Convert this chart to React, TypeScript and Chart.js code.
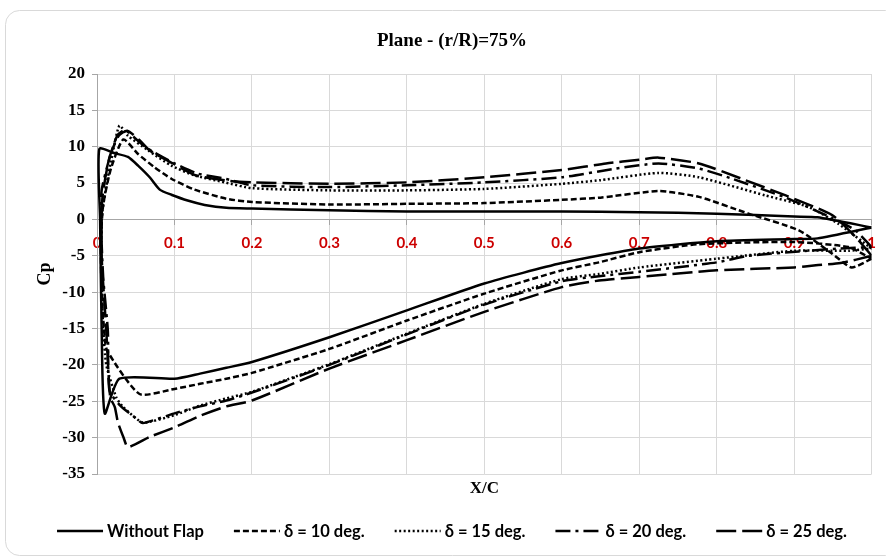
import { useEffect, useRef } from 'react';
import { Chart, registerables } from 'chart.js';

Chart.register(...registerables);

const TITLE = 'Plane - (r/R)=75%';
const X_TITLE = 'X/C';
const Y_TITLE = 'Cp';

const X_MIN = 0;
const X_MAX = 1;
const X_STEP = 0.1;
const Y_MIN = -35;
const Y_MAX = 20;
const Y_STEP = 5;

const SERIES_LABELS = ['Without Flap', 'δ = 10 deg.', 'δ = 15 deg.', 'δ = 20 deg.', 'δ = 25 deg.'];

// [x/c, Cp] along each section: trailing edge -> pressure side -> leading edge -> suction side -> trailing edge
const noFlap: [number, number][] = [
  [1.0, -1.1], [0.93, 0.3], [0.9, 0.4], [0.8, 0.8], [0.7, 1.0], [0.6, 1.1], [0.5, 1.1], [0.4, 1.1],
  [0.3, 1.25], [0.2, 1.5], [0.167, 1.6], [0.139, 2.0], [0.117, 2.6], [0.096, 3.4], [0.081, 4.1],
  [0.068, 5.8], [0.053, 7.4], [0.04, 8.6], [0.023, 9.1], [0.003, 9.7], [0.004, 0], [0.006, -15],
  [0.01, -26.7], [0.029, -21.9], [0.1, -21.9], [0.133, -21.2], [0.167, -20.4], [0.2, -19.6],
  [0.3, -16.2], [0.4, -12.5], [0.5, -8.8], [0.6, -6.0], [0.7, -4.0], [0.8, -3.0], [0.9, -2.7],
  [0.93, -2.6], [1.0, -1.1],
];

const flap10: [number, number][] = [
  [1.0, -5.4], [0.974, -6.6], [0.949, -4.7], [0.906, -1.5], [0.841, 0.8], [0.777, 3.1], [0.725, 3.9],
  [0.65, 3.0], [0.6, 2.7], [0.5, 2.25], [0.4, 2.15], [0.3, 2.05], [0.2, 2.4], [0.167, 2.85],
  [0.126, 4.1], [0.096, 5.6], [0.074, 7.2], [0.053, 9.0], [0.034, 11.0], [0.018, 7.0], [0.008, 2.0],
  [0.005, -3], [0.006, -10], [0.009, -15], [0.013, -18], [0.055, -24.0], [0.1, -23.3], [0.133, -22.6],
  [0.167, -21.9], [0.2, -21.1], [0.3, -17.8], [0.4, -13.9], [0.5, -10.2], [0.6, -7.0], [0.648, -5.9],
  [0.7, -4.5], [0.777, -3.4], [0.9, -3.1], [0.97, -3.8], [1.0, -5.4],
];

const flap15: [number, number][] = [
  [1.0, -4.0], [0.957, -0.6], [0.919, 1.7], [0.863, 3.3], [0.777, 5.8], [0.725, 6.4], [0.65, 5.4],
  [0.6, 4.9], [0.5, 4.2], [0.4, 4.0], [0.3, 4.0], [0.2, 4.3], [0.165, 5.1], [0.126, 6.05], [0.096, 7.4],
  [0.066, 9.5], [0.04, 11.5], [0.029, 12.9], [0.02, 9.0], [0.011, 4.0], [0.006, 0], [0.006, -8],
  [0.008, -15], [0.012, -20], [0.025, -24.5], [0.034, -25.8], [0.059, -27.9], [0.1, -26.9],
  [0.133, -25.6], [0.167, -24.6], [0.2, -23.7], [0.3, -19.9], [0.4, -15.7], [0.5, -11.6], [0.6, -8.2],
  [0.648, -7.5], [0.7, -6.6], [0.8, -5.4], [0.9, -4.3], [0.97, -4.3], [1.0, -4.0],
];

const flap20: [number, number][] = [
  [1.0, -3.8], [0.979, -1.5], [0.949, 0.2], [0.889, 3.0], [0.82, 5.6], [0.777, 7.0], [0.725, 7.7],
  [0.67, 7.0], [0.6, 5.8], [0.5, 5.1], [0.4, 4.7], [0.3, 4.45], [0.2, 4.7], [0.165, 5.6], [0.13, 6.3],
  [0.1, 7.7], [0.066, 9.7], [0.055, 10.6], [0.036, 12.3], [0.026, 11.5], [0.015, 8.0], [0.006, 4.0],
  [0.005, 0], [0.008, -8], [0.014, -15.3], [0.016, -23.5], [0.03, -25.6], [0.051, -27.4], [0.059, -28.0],
  [0.102, -26.6], [0.133, -25.7], [0.167, -24.9], [0.2, -23.8], [0.3, -20.0], [0.4, -15.8], [0.5, -11.7],
  [0.6, -8.5], [0.648, -7.8], [0.7, -7.2], [0.8, -5.9], [0.841, -5.0], [0.906, -4.4], [0.957, -4.0],
  [1.0, -3.8],
];

const flap25: [number, number][] = [
  [1.0, -5.0], [0.98, -2.5], [0.949, 0.6], [0.889, 3.3], [0.832, 5.6], [0.777, 7.7], [0.725, 8.5],
  [0.7, 8.2], [0.657, 7.7], [0.6, 6.8], [0.5, 5.8], [0.4, 5.1], [0.3, 4.9], [0.2, 5.1], [0.171, 5.3],
  [0.128, 6.05], [0.098, 7.7], [0.068, 9.5], [0.055, 10.9], [0.039, 12.2], [0.028, 11.5], [0.016, 8.5],
  [0.007, 3.0], [0.006, -5], [0.012, -15.3], [0.017, -24.4], [0.023, -25.8], [0.027, -27.9],
  [0.034, -29.9], [0.04, -31.3], [0.068, -29.9], [0.102, -28.5], [0.133, -27.0], [0.167, -25.7],
  [0.2, -24.9], [0.3, -20.5], [0.4, -16.6], [0.5, -12.7], [0.6, -9.3], [0.648, -8.4], [0.7, -7.9],
  [0.8, -7.0], [0.9, -6.6], [0.928, -6.3], [0.96, -6.0], [1.0, -5.0],
];

const SERIES_POINTS = [noFlap, flap10, flap15, flap20, flap25];
const SERIES_DASHES: number[][] = [[], [6, 3], [2, 2.5], [15, 5, 3, 5], [20, 6]];

const SERIF = '"Liberation Serif", "Times New Roman", serif';
const SANS = 'Lato, "Open Sans", sans-serif';

const decorPlugin = {
  id: 'decor',
  beforeDraw(chart: any) {
    const { ctx } = chart;
    ctx.save();
    ctx.fillStyle = '#ffffff';
    ctx.fillRect(0, 0, chart.width, chart.height);
    ctx.strokeStyle = '#d9d9d9';
    ctx.lineWidth = 1;
    ctx.beginPath();
    ctx.roundRect(5.5, 10.5, 894, 545, 14);
    ctx.stroke();
    ctx.restore();
  },
  afterDraw(chart: any) {
    const { ctx, chartArea: ca } = chart;
    const frameMid = 452;
    ctx.save();
    ctx.fillStyle = '#000000';
    ctx.textAlign = 'center';
    ctx.textBaseline = 'middle';

    ctx.font = `bold 19px ${SERIF}`;
    ctx.fillText(TITLE, frameMid, 41);

    ctx.font = `bold 17px ${SERIF}`;
    ctx.fillText(X_TITLE, (ca.left + ca.right) / 2, ca.bottom + 15);

    ctx.save();
    ctx.translate(45, (ca.top + ca.bottom) / 2);
    ctx.rotate(-Math.PI / 2);
    ctx.font = `bold 18px ${SERIF}`;
    ctx.fillText(Y_TITLE, 0, 0);
    ctx.restore();

    // legend row
    ctx.font = `bold 16.5px ${SANS}`;
    const sample = 46;
    const textGap = 4;
    const itemGap = 30;
    const items = chart.data.datasets.map((ds: any) => ({
      ds,
      w: sample + textGap + ctx.measureText(ds.label).width,
    }));
    const total = items.reduce((s: number, it: any) => s + it.w, 0) + itemGap * (items.length - 1);
    let x = frameMid - total / 2;
    const y = 531;
    items.forEach(({ ds, w }: any) => {
      ctx.beginPath();
      ctx.setLineDash(ds.borderDash || []);
      ctx.lineWidth = ds.borderWidth;
      ctx.strokeStyle = ds.borderColor;
      ctx.moveTo(x, y);
      ctx.lineTo(x + sample, y);
      ctx.stroke();
      ctx.setLineDash([]);
      ctx.textAlign = 'left';
      ctx.fillText(ds.label, x + sample + textGap, y + 1);
      x += w + itemGap;
    });
    ctx.restore();
  },
};

export default function App() {
  const canvasRef = useRef<HTMLCanvasElement | null>(null);

  useEffect(() => {
    if (!canvasRef.current) return;
    const chart = new Chart(canvasRef.current, {
      type: 'scatter',
      data: {
        datasets: SERIES_POINTS.map((pts, i) => ({
          label: SERIES_LABELS[i],
          data: pts.map(([x, y]) => ({ x, y })),
          showLine: true,
          borderColor: '#000000',
          backgroundColor: '#000000',
          borderWidth: 2.5,
          borderDash: SERIES_DASHES[i],
          pointRadius: 0,
          pointHoverRadius: 0,
          tension: 0.2,
          fill: false,
        })),
      },
      options: {
        animation: false,
        responsive: false,
        devicePixelRatio: 1,
        layout: { padding: { left: 57, right: 13, top: 74, bottom: 86 } },
        plugins: {
          legend: { display: false },
          title: { display: false },
          tooltip: { enabled: false },
        },
        scales: {
          x: {
            type: 'linear',
            min: X_MIN,
            max: X_MAX,
            position: { y: 0 } as any,
            ticks: {
              stepSize: X_STEP,
              color: '#cc0000',
              padding: 10,
              maxRotation: 0,
              font: { family: SANS, size: 15, weight: 'bold' },
              callback: (v: any) => String(Number(Number(v).toFixed(1))),
            },
            grid: { color: '#d9d9d9', tickLength: 5, tickColor: '#a6a6a6' },
            border: { color: '#a6a6a6', width: 1 },
            afterFit: (scale: any) => {
              scale.height = 0;
            },
          },
          y: {
            type: 'linear',
            min: Y_MIN,
            max: Y_MAX,
            ticks: {
              stepSize: Y_STEP,
              color: '#000000',
              padding: 7,
              font: { family: SERIF, size: 17, weight: 'bold' },
            },
            grid: { color: '#d9d9d9', tickLength: 5, tickColor: '#a6a6a6' },
            border: { color: '#a6a6a6', width: 1 },
            afterFit: (scale: any) => {
              scale.width = 40;
            },
          },
        },
      },
      plugins: [decorPlugin],
    });
    return () => chart.destroy();
  }, []);

  return (
    <div style={{ position: 'absolute', left: 0, top: 0, width: 886, height: 560, overflow: 'hidden', background: '#fff' }}>
      <canvas ref={canvasRef} width={886} height={560} style={{ display: 'block' }} />
    </div>
  );
}
